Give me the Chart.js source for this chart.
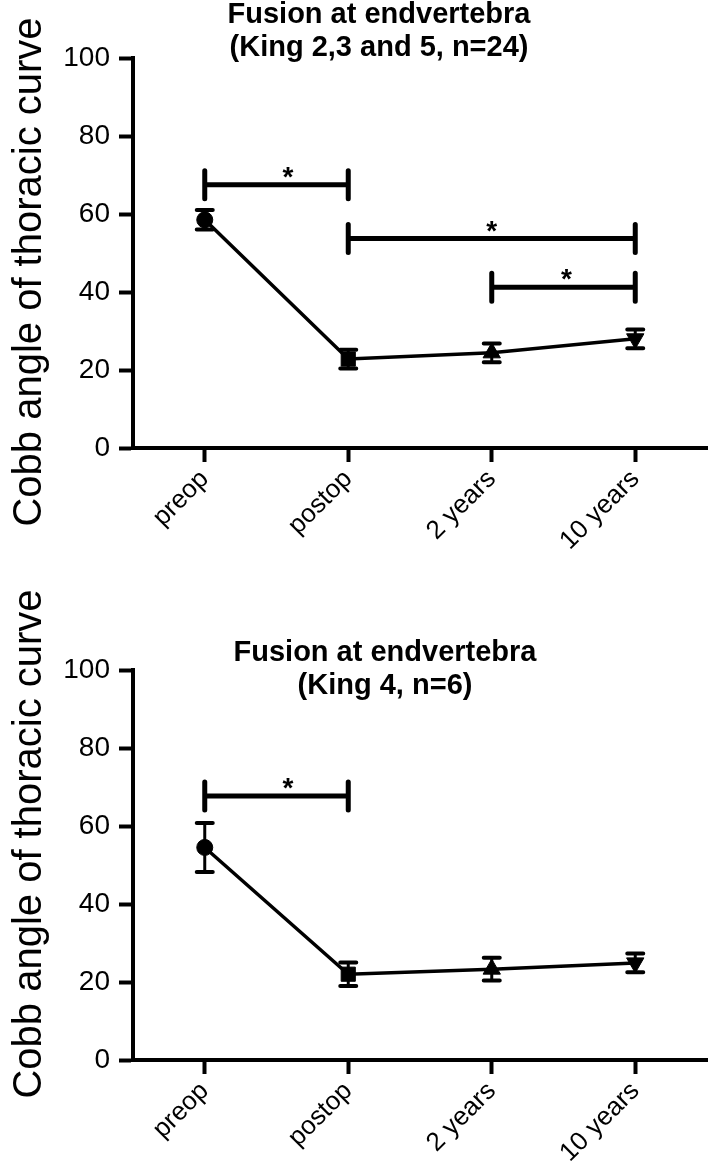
<!DOCTYPE html>
<html>
<head>
<meta charset="utf-8">
<script src="https://cdn.jsdelivr.net/npm/chart.js@4.4.1/dist/chart.umd.min.js"></script>
<style>
  html, body { margin: 0; padding: 0; background: #fff; }
  .box { position: absolute; left: 0; width: 718px; }
  #topBox { top: 0; height: 586px; }
  #bottomBox { top: 586px; height: 587px; }
</style>
</head>
<body>
<div class="box" id="topBox"><canvas id="chartTop"></canvas></div>
<div class="box" id="bottomBox"><canvas id="chartBottom"></canvas></div>
<script>
const categories = ['preop', 'postop', '2 years', '10 years'];
const yTitle = 'Cobb angle of thoracic curve';

const topTitle = ['Fusion at endvertebra', '(King 2,3 and 5, n=24)'];
const topMeans = [58.5, 22.8, 24.4, 28.0];
const topErrors = [2.5, 2.4, 2.4, 2.4];
// [from, to, height, where the star sits]
const topBrackets = [[0, 1, 67.5, 0.58], [1, 3, 53.7, 2.0], [2, 3, 41.2, 2.52]];

const bottomTitle = ['Fusion at endvertebra', '(King 4, n=6)'];
const bottomMeans = [54.5, 22.0, 23.3, 24.9];
const bottomErrors = [6.3, 3.0, 2.9, 2.4];
const bottomBrackets = [[0, 1, 67.7, 0.58]];

const pointStyles = ['circle', 'rect', 'triangle', 'triangle'];
const pointRotations = [0, 0, 0, 180];
const pointSizes = [8, 10, 10, 10];

const FONT = '"Liberation Sans", Arial, Helvetica, sans-serif';
Chart.defaults.font.family = FONT;
Chart.defaults.color = '#000';

const decorations = {
    id: 'decorations',
    beforeDatasetsDraw(chart, args, opts) {
        const ctx = chart.ctx;
        const x = chart.scales.x;
        const y = chart.scales.y;
        const means = chart.data.datasets[0].data;
        ctx.save();
        ctx.strokeStyle = '#000';
        // error bars
        opts.errors.forEach((e, i) => {
            const px = x.getPixelForValue(i);
            const top = y.getPixelForValue(means[i] + e);
            const bot = y.getPixelForValue(means[i] - e);
            ctx.lineWidth = 3;
            ctx.lineCap = 'butt';
            ctx.beginPath();
            ctx.moveTo(px, top);
            ctx.lineTo(px, bot);
            ctx.stroke();
            ctx.lineWidth = 4;
            ctx.lineCap = 'round';
            ctx.beginPath();
            ctx.moveTo(px - 8, top); ctx.lineTo(px + 8, top);
            ctx.moveTo(px - 8, bot); ctx.lineTo(px + 8, bot);
            ctx.stroke();
        });
        ctx.restore();
    },
    afterDatasetsDraw(chart, args, opts) {
        const ctx = chart.ctx;
        const x = chart.scales.x;
        const y = chart.scales.y;
        ctx.save();
        ctx.strokeStyle = '#000';
        ctx.fillStyle = '#000';

        // significance brackets
        opts.brackets.forEach(b => {
            const x1 = x.getPixelForValue(b[0]);
            const x2 = x.getPixelForValue(b[1]);
            const py = y.getPixelForValue(b[2]);
            ctx.lineWidth = 5;
            ctx.lineCap = 'butt';
            ctx.beginPath();
            ctx.moveTo(x1, py);
            ctx.lineTo(x2, py);
            ctx.stroke();
            ctx.lineCap = 'round';
            ctx.beginPath();
            ctx.moveTo(x1, py - 14); ctx.lineTo(x1, py + 14);
            ctx.moveTo(x2, py - 14); ctx.lineTo(x2, py + 14);
            ctx.stroke();
            // star position between two categories
            const s0 = Math.floor(b[3]);
            const frac = b[3] - s0;
            const sx = x.getPixelForValue(s0) + frac * (x.getPixelForValue(s0 + 1) - x.getPixelForValue(s0));
            ctx.font = 'bold 28px ' + FONT;
            ctx.textAlign = 'center';
            ctx.textBaseline = 'alphabetic';
            ctx.fillText('*', sx, py + 1);
        });

        // chart title
        ctx.font = 'bold 29px ' + FONT;
        ctx.textAlign = 'center';
        ctx.textBaseline = 'middle';
        opts.title.forEach((line, i) => {
            ctx.fillText(line, opts.titleX, opts.titleY + i * 33);
        });

        // y axis title
        ctx.translate(opts.yTitleX, opts.yTitleY);
        ctx.rotate(-Math.PI / 2);
        ctx.font = '40px ' + FONT;
        ctx.textAlign = 'center';
        ctx.textBaseline = 'alphabetic';
        ctx.fillText(yTitle, 0, 0);
        ctx.restore();
    }
};

function makeChart(id, means, errors, brackets, title, place) {
    const tickGrid = {
        display: true,
        drawOnChartArea: false,
        drawTicks: true,
        tickLength: 14,
        tickWidth: 4,
        tickColor: '#000'
    };
    return new Chart(document.getElementById(id), {
        type: 'line',
        data: {
            labels: categories,
            datasets: [{
                data: means,
                borderColor: '#000',
                backgroundColor: '#000',
                borderWidth: 3.5,
                tension: 0,
                pointStyle: pointStyles,
                pointRotation: pointRotations,
                pointRadius: pointSizes,
                pointHoverRadius: pointSizes,
                pointBackgroundColor: '#000',
                pointBorderColor: '#000',
                pointBorderWidth: 1
            }]
        },
        options: {
            responsive: true,
            maintainAspectRatio: false,
            animation: false,
            events: [],
            layout: { padding: { top: place.top, right: 2, left: 0, bottom: 0 } },
            plugins: {
                legend: { display: false },
                tooltip: { enabled: false },
                decorations: {
                    errors: errors,
                    brackets: brackets,
                    title: title,
                    titleX: place.titleX,
                    titleY: place.titleY,
                    yTitleX: 41,
                    yTitleY: place.yTitleY
                }
            },
            scales: {
                x: {
                    offset: true,
                    grid: tickGrid,
                    border: { color: '#000', width: 4 },
                    ticks: {
                        color: '#000',
                        font: { size: 26 },
                        maxRotation: 45,
                        minRotation: 45,
                        padding: 2
                    },
                    afterFit: s => { s.height = place.xHeight; }
                },
                y: {
                    min: 0,
                    max: 100,
                    grid: tickGrid,
                    border: { color: '#000', width: 4 },
                    ticks: {
                        stepSize: 20,
                        color: '#000',
                        font: { size: 28 },
                        padding: 9
                    },
                    afterFit: s => { s.width = 133; }
                }
            }
        },
        plugins: [decorations]
    });
}

makeChart('chartTop', topMeans, topErrors, topBrackets, topTitle,
    { top: 58, xHeight: 138, titleX: 379, titleY: 15, yTitleY: 272 });
makeChart('chartBottom', bottomMeans, bottomErrors, bottomBrackets, bottomTitle,
    { top: 84, xHeight: 113, titleX: 385, titleY: 67, yTitleY: 258 });
</script>
</body>
</html>
